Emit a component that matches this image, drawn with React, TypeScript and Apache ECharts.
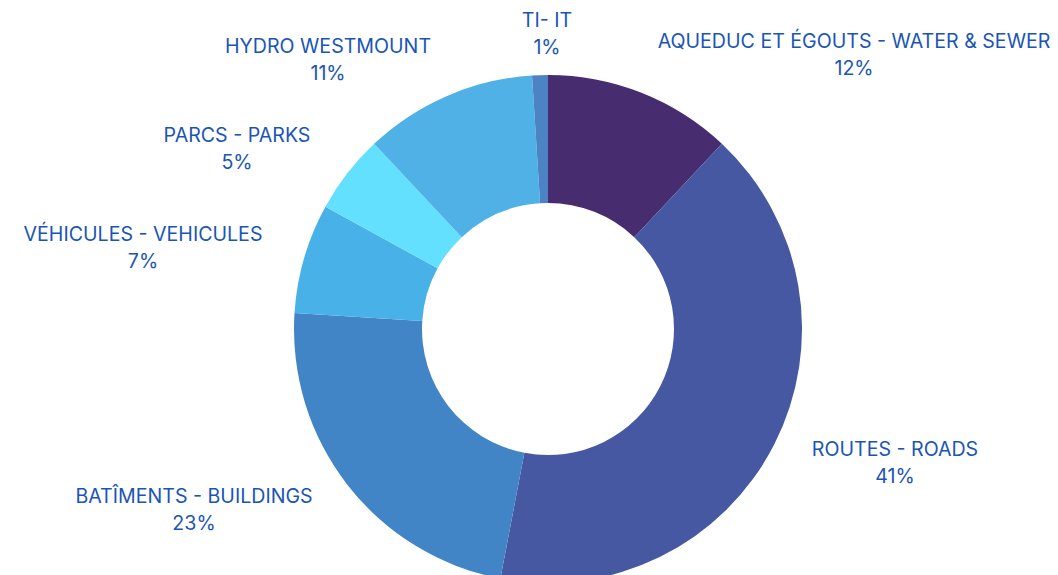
import React, { useEffect, useRef } from "react";
import * as echarts from "echarts";

const categories = [
  "AQUEDUC ET ÉGOUTS - WATER & SEWER",
  "ROUTES - ROADS",
  "BATÎMENTS - BUILDINGS",
  "VÉHICULES - VEHICULES",
  "PARCS - PARKS",
  "HYDRO WESTMOUNT",
  "TI- IT",
];
const shares = [12, 41, 23, 7, 5, 11, 1];
const colors = ["#472C70", "#4558A1", "#4285C7", "#48B1E8", "#62E0FD", "#4FB1E5", "#4B83C5"];
// label anchor points (centre of the two-line label), in px
const labelAnchors: [number, number][] = [
  [854, 54],
  [895, 462],
  [194, 509],
  [143, 247],
  [237, 148],
  [328, 59],
  [547, 33],
];

export default function App() {
  const ref = useRef<HTMLDivElement>(null);
  useEffect(() => {
    document.body.style.margin = "0";
    if (!ref.current) return;
    const chart = echarts.init(ref.current, undefined, { renderer: "svg" });
    chart.setOption({
      animation: false,
      backgroundColor: "#ffffff",
      series: [
        {
          type: "pie",
          center: [548, 329],
          radius: [126, 254],
          startAngle: 90,
          clockwise: true,
          avoidLabelOverlap: false,
          data: categories.map((name, i) => ({
            name,
            value: shares[i],
            itemStyle: { color: colors[i] },
          })),
          label: {
            show: true,
            position: "outside",
            formatter: (p: any) => `${p.name}\n${p.value}%`,
            color: "#1A55B6",
            fontFamily: "Inter",
            fontSize: 19.6,
            lineHeight: 27,
            align: "center",
          },
          labelLine: { show: false },
          labelLayout: (params: any) => {
            const a = labelAnchors[params.dataIndex];
            return { x: a[0], y: a[1], align: "center", verticalAlign: "middle" };
          },
          emphasis: { disabled: true },
        },
      ],
    });
    return () => chart.dispose();
  }, []);
  return <div ref={ref} style={{ width: 1058, height: 575 }} />;
}
